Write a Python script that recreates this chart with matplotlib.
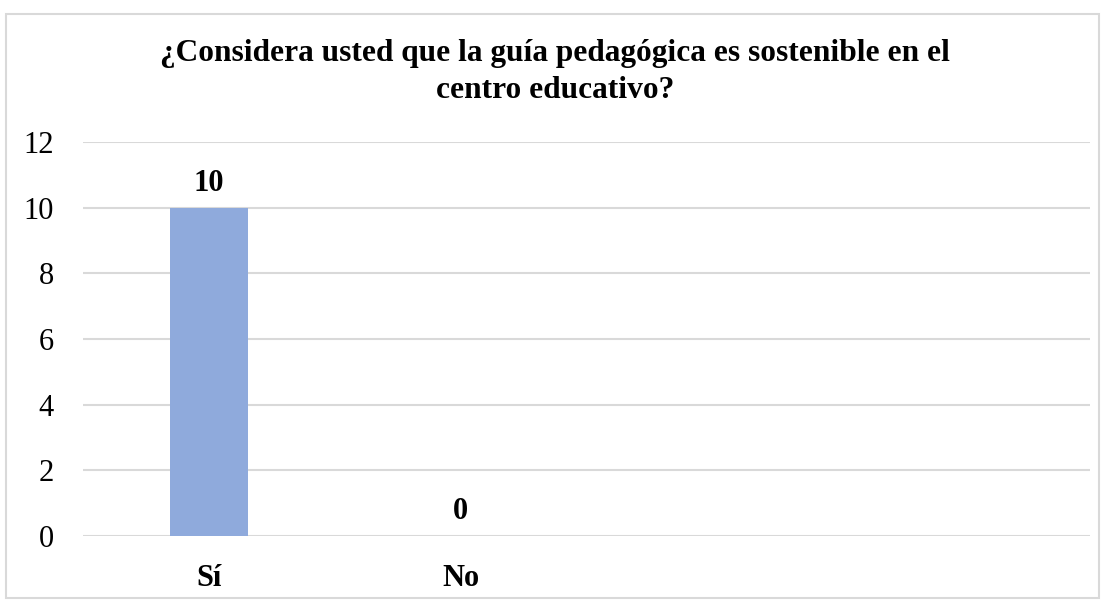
import matplotlib.pyplot as plt
from matplotlib.patches import Rectangle

# data
categories = ["Sí", "No", "", ""]
values = [10, 0, None, None]
yticks = [0, 2, 4, 6, 8, 10, 12]

plt.rcParams['font.family'] = ['Liberation Serif', 'DejaVu Serif']

fig = plt.figure(figsize=(11.05, 6), dpi=100)
ax = fig.add_axes([0.0751, 0.1067, 0.9113, 0.6566])

# light border round the whole chart
fig.patches.append(Rectangle((0.005, 0.003), 0.99, 0.974, transform=fig.transFigure,
                             fill=False, edgecolor="#d9d9d9", linewidth=1.5))

xs = list(range(len(categories)))
for x, v in zip(xs, values):
    if v is None:
        continue
    ax.bar(x, v, width=0.31, color="#8faadc", zorder=3)
    ax.text(x, v + 0.3, str(v), ha="center", va="bottom", fontsize=22, fontweight="bold")

ax.set_xlim(-0.5, len(categories) - 0.5)
ax.set_ylim(0, 12)
ax.set_yticks(yticks)
ax.set_yticklabels([str(t) for t in yticks], fontsize=22)
ax.set_xticks(xs)
ax.set_xticklabels(categories, fontsize=22, fontweight="bold")
ax.tick_params(axis="both", length=0)
ax.tick_params(axis="y", pad=21)
ax.tick_params(axis="x", pad=20)
ax.yaxis.grid(True, color="#d9d9d9", linewidth=1.5, zorder=0)
for s in ax.spines.values():
    s.set_visible(False)

fig.text(0.502, 0.88, "¿Considera usted que la guía pedagógica es sostenible en el\ncentro educativo?",
         ha="center", va="center", fontsize=22.6, fontweight="bold", linespacing=1.4)

fig.savefig("out.png")
